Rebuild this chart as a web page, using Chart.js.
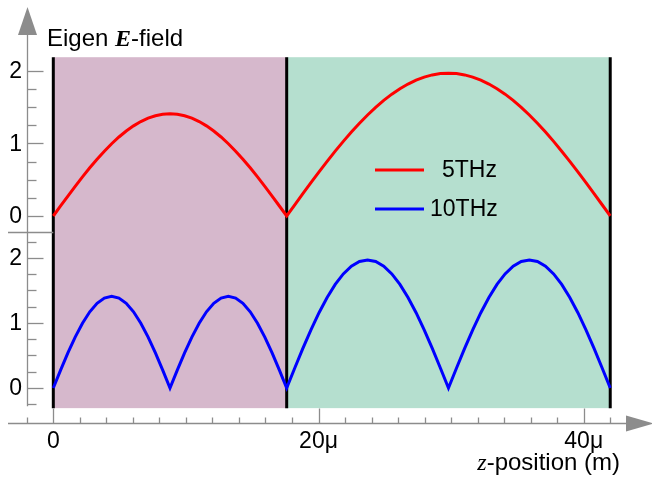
<!DOCTYPE html>
<html>
<head>
<meta charset="utf-8">
<script src="https://cdn.jsdelivr.net/npm/chart.js@4.4.1/dist/chart.umd.min.js"></script>
<style>
  html, body { margin: 0; padding: 0; background: #fff; }
  #wrap { width: 652px; height: 481px; }
</style>
</head>
<body>
<div id="wrap"><canvas id="eigenChart" width="652" height="481"></canvas></div>
<script>
// z positions in micrometres (layer 1: 0 - 17.6, layer 2: 17.6 - 42)
const zPositions = [
  0, 0.55, 1.1, 1.65, 2.2, 2.75, 3.3, 3.85, 4.4, 4.95, 5.5, 6.05, 6.6, 7.15, 7.7, 8.25,
  8.8, 9.35, 9.9, 10.45, 11, 11.55, 12.1, 12.65, 13.2, 13.75, 14.3, 14.85, 15.4, 15.95, 16.5, 17.05,
  17.6, 18.21, 18.82, 19.43, 20.04, 20.65, 21.26, 21.87, 22.48, 23.09, 23.7, 24.31, 24.92, 25.53,
  26.14, 26.75, 27.36, 27.97, 28.58, 29.19, 29.8, 30.41, 31.02, 31.63, 32.24, 32.85, 33.46, 34.07,
  34.68, 35.29, 35.9, 36.51, 37.12, 37.73, 38.34, 38.95, 39.56, 40.17, 40.78, 41.39, 42
];

// eigen field, 5 THz mode (top panel)
const field5THz = [
  0, 0.138, 0.275, 0.409, 0.54, 0.665, 0.783, 0.894, 0.997, 1.09, 1.172, 1.243, 1.303, 1.349, 1.383, 1.403,
  1.41, 1.403, 1.383, 1.349, 1.303, 1.243, 1.172, 1.09, 0.997, 0.894, 0.783, 0.665, 0.54, 0.409, 0.275, 0.138,
  0, 0.155, 0.308, 0.46, 0.609, 0.754, 0.894, 1.029, 1.158, 1.279, 1.393, 1.498, 1.594, 1.68,
  1.755, 1.82, 1.874, 1.916, 1.946, 1.964, 1.97, 1.964, 1.946, 1.916, 1.874, 1.82, 1.755, 1.68,
  1.594, 1.498, 1.393, 1.279, 1.158, 1.029, 0.894, 0.754, 0.609, 0.46, 0.308, 0.155, 0
];

// eigen field, 10 THz mode (bottom panel)
const field10THz = [
  0, 0.275, 0.54, 0.783, 0.997, 1.172, 1.303, 1.383, 1.41, 1.383, 1.303, 1.172, 0.997, 0.783, 0.54, 0.275,
  0, 0.275, 0.54, 0.783, 0.997, 1.172, 1.303, 1.383, 1.41, 1.383, 1.303, 1.172, 0.997, 0.783, 0.54, 0.275,
  0, 0.308, 0.609, 0.894, 1.158, 1.393, 1.594, 1.755, 1.874, 1.946, 1.97, 1.946, 1.874, 1.755,
  1.594, 1.393, 1.158, 0.894, 0.609, 0.308, 0, 0.308, 0.609, 0.894, 1.158, 1.393, 1.594, 1.755,
  1.874, 1.946, 1.97, 1.946, 1.874, 1.755, 1.594, 1.393, 1.158, 0.894, 0.609, 0.308, 0
];

const layerEdges = [0, 17.6, 42];
const xMajorTicks = [0, 20, 40];
const xMajorLabels = ['0', '20μ', '40μ'];
const yMajorTicks = [0, 1, 2];
const legendLabels = ['5THz', '10THz'];

const layerColors = ['rgb(214,184,204)', 'rgb(181,223,207)'];
const axisGray = '#8c8c8c';
const labelFont = '23px "Liberation Sans", Arial, sans-serif';
const titleFont = '24px "Liberation Sans", Arial, sans-serif';
const italicFont = 'italic 24px "Liberation Serif", "Times New Roman", serif';

// draw the layer backgrounds and the interfaces under the curves
const layersPlugin = {
  id: 'layers',
  beforeDatasetsDraw(chart) {
    const { ctx, scales: { x, yTop, yBot } } = chart;
    const top = yTop.getPixelForValue(2.19);
    const bottom = yBot.getPixelForValue(-0.31);
    ctx.save();
    for (let i = 0; i < layerEdges.length - 1; i++) {
      const l = x.getPixelForValue(layerEdges[i]);
      const r = x.getPixelForValue(layerEdges[i + 1]);
      ctx.fillStyle = layerColors[i];
      ctx.fillRect(l, top, r - l, bottom - top);
    }
    ctx.strokeStyle = '#000';
    ctx.lineWidth = 3;
    layerEdges.forEach(z => {
      const px = x.getPixelForValue(z);
      ctx.beginPath();
      ctx.moveTo(px, top);
      ctx.lineTo(px, bottom);
      ctx.stroke();
    });
    ctx.restore();
  }
};

// axes with arrows, split y axis, labels and legend
const axesPlugin = {
  id: 'axes',
  afterDatasetsDraw(chart) {
    const { ctx, scales: { x, yTop, yBot } } = chart;
    const axisX = Math.round(x.getPixelForValue(-2)) + 0.5;
    const axisY = Math.round(yBot.getPixelForValue(-0.54)) + 0.5;
    const splitY = Math.round(yTop.getPixelForValue(-0.22)) + 0.5;
    ctx.save();
    ctx.strokeStyle = axisGray;
    ctx.fillStyle = axisGray;
    ctx.lineWidth = 1.3;

    // vertical axis + arrow
    ctx.beginPath();
    ctx.moveTo(axisX, 30);
    ctx.lineTo(axisX, yBot.getPixelForValue(-0.28));
    ctx.stroke();
    ctx.beginPath();
    ctx.moveTo(axisX, 7);
    ctx.lineTo(axisX - 9.5, 35);
    ctx.lineTo(axisX + 9.5, 35);
    ctx.closePath();
    ctx.fill();

    // panel separator
    ctx.beginPath();
    ctx.moveTo(8, splitY);
    ctx.lineTo(x.getPixelForValue(0), splitY);
    ctx.stroke();

    // y ticks
    const yTicks = (scale, from, to) => {
      for (let v = from; v <= to + 1e-6; v += 0.25) {
        const py = Math.round(scale.getPixelForValue(v)) + 0.5;
        const len = Math.abs(v - Math.round(v)) < 1e-6 ? 16 : 9;
        ctx.beginPath();
        ctx.moveTo(axisX, py);
        ctx.lineTo(axisX + len, py);
        ctx.stroke();
      }
    };
    yTicks(yTop, 0, 2);
    yTicks(yBot, -0.25, 2.25);

    // horizontal axis + arrow
    ctx.beginPath();
    ctx.moveTo(8, axisY);
    ctx.lineTo(628, axisY);
    ctx.stroke();
    ctx.beginPath();
    ctx.moveTo(654, axisY);
    ctx.lineTo(626, axisY - 8);
    ctx.lineTo(626, axisY + 8);
    ctx.closePath();
    ctx.fill();

    for (let z = -2; z <= 42; z += 2) {
      const px = Math.round(x.getPixelForValue(z)) + 0.5;
      const len = z % 20 === 0 ? 15 : 6;
      ctx.beginPath();
      ctx.moveTo(px, axisY);
      ctx.lineTo(px, axisY - len);
      ctx.stroke();
    }

    // tick labels
    ctx.fillStyle = '#000';
    ctx.font = labelFont;
    ctx.textBaseline = 'middle';
    ctx.textAlign = 'right';
    yMajorTicks.forEach(v => {
      ctx.fillText(String(v), 22, yTop.getPixelForValue(v) + 1);
      ctx.fillText(String(v), 22, yBot.getPixelForValue(v) + 1);
    });
    ctx.textAlign = 'center';
    xMajorTicks.forEach((z, i) => {
      ctx.fillText(xMajorLabels[i], x.getPixelForValue(z), axisY + 18);
    });

    // axis titles
    ctx.textAlign = 'left';
    ctx.textBaseline = 'alphabetic';
    ctx.font = titleFont;
    let tx = 47;
    ctx.fillText('Eigen ', tx, 46);
    tx += ctx.measureText('Eigen ').width;
    ctx.font = 'italic bold 24px "Liberation Serif", "Times New Roman", serif';
    ctx.fillText('E', tx, 46);
    tx += ctx.measureText('E').width;
    ctx.font = titleFont;
    ctx.fillText('-field', tx, 46);

    ctx.font = italicFont;
    const zW = ctx.measureText('z').width;
    ctx.font = titleFont;
    const restW = ctx.measureText('-position (m)').width;
    const sx = 620 - restW - zW;
    ctx.font = italicFont;
    ctx.fillText('z', sx, 470);
    ctx.font = titleFont;
    ctx.fillText('-position (m)', sx + zW, 470);

    // legend
    ctx.font = labelFont;
    const legendRows = [{ y: 170, color: '#ff0000', textX: 442 }, { y: 209, color: '#0000ff', textX: 430 }];
    legendRows.forEach((row, i) => {
      ctx.strokeStyle = row.color;
      ctx.lineWidth = 3;
      ctx.beginPath();
      ctx.moveTo(375, row.y);
      ctx.lineTo(424, row.y);
      ctx.stroke();
      ctx.fillStyle = '#000';
      ctx.textBaseline = 'middle';
      ctx.fillText(legendLabels[i], row.textX, row.y + 1);
    });
    ctx.restore();
  }
};

const ctx = document.getElementById('eigenChart').getContext('2d');
new Chart(ctx, {
  type: 'line',
  data: {
    datasets: [
      {
        label: legendLabels[0],
        data: zPositions.map((z, i) => ({ x: z, y: field5THz[i] })),
        borderColor: '#ff0000',
        borderWidth: 3,
        pointRadius: 0,
        tension: 0,
        yAxisID: 'yTop',
      },
      {
        label: legendLabels[1],
        data: zPositions.map((z, i) => ({ x: z, y: field10THz[i] })),
        borderColor: '#0000ff',
        borderWidth: 3,
        pointRadius: 0,
        tension: 0,
        yAxisID: 'yBot',
      },
    ],
  },
  options: {
    responsive: false,
    animation: false,
    layout: { padding: 0 },
    plugins: {
      legend: { display: false },
      title: { display: false },
      tooltip: { enabled: false },
    },
    scales: {
      x: { type: 'linear', min: -4.02, max: 45.15, display: false },
      yTop: { type: 'linear', min: -3.655, max: 2.979, display: false },
      yBot: { type: 'linear', min: -1.431, max: 5.969, display: false },
    },
  },
  plugins: [layersPlugin, axesPlugin],
});
</script>
</body>
</html>
